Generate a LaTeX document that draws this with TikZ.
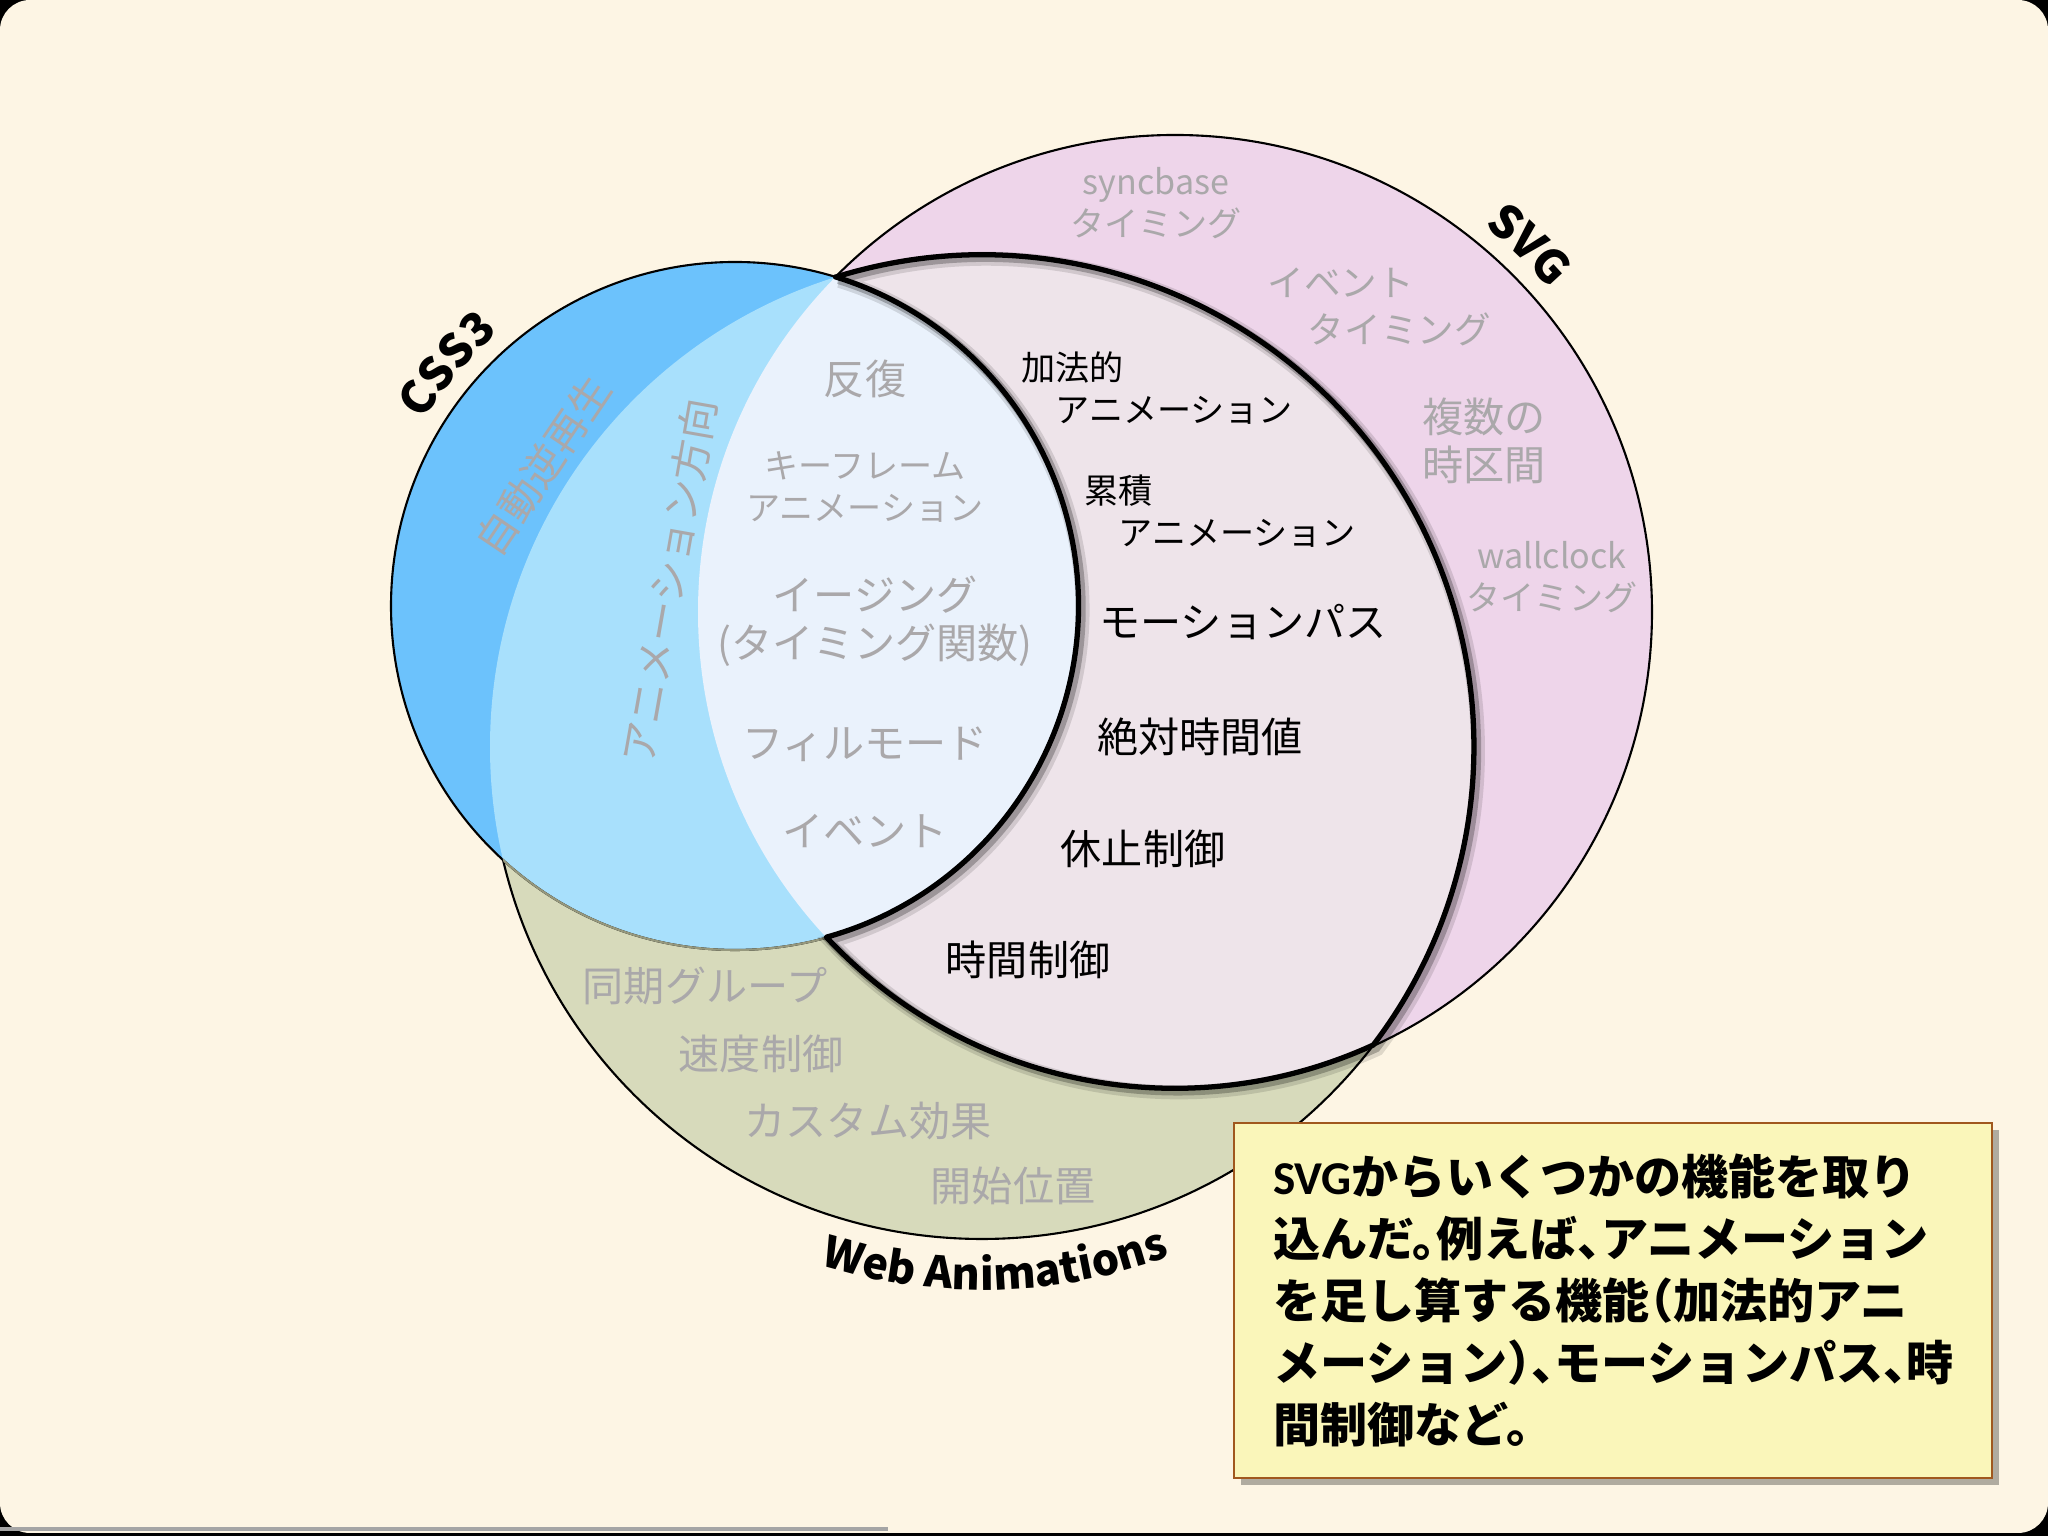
\documentclass[tikz,border=0pt]{standalone}
\usepackage{fontspec}
\setmainfont{Noto Sans CJK JP}
\newfontfamily\notefont{Noto Sans CJK JP}[RawFeature=+halt]
\newfontfamily\calfont{Carlito}
\usetikzlibrary{decorations.text}

\definecolor{bgcream}{RGB}{253,245,228}
\definecolor{waolive}{RGB}{215,218,187}
\definecolor{svgpink}{RGB}{238,213,234}
\definecolor{svgwa}{RGB}{238,228,234}
\definecolor{cssblue}{RGB}{108,194,252}
\definecolor{csswa}{RGB}{168,224,252}
\definecolor{allthree}{RGB}{234,242,252}
\definecolor{featgray}{RGB}{170,168,170}
\definecolor{olivegray}{RGB}{150,152,125}
\definecolor{notefill}{RGB}{250,246,186}
\definecolor{notebrown}{RGB}{160,88,30}
\definecolor{bargray}{RGB}{165,165,165}

\newcommand\rcss{3.44}
\newcommand\rsvg{4.77}
\newcommand\rwa{4.92}
\newcommand\arcfont{\fontsize{13}{15}\selectfont\bfseries}
\newcommand\rimpath{(8.36,12.59) arc[start angle=107.26, end angle=-37.31, radius=\rwa]
  arc[start angle=-65.40, end angle=-136.91, radius=\rsvg]
  arc[start angle=-74.50, end angle=72.93, radius=\rcss] -- cycle}

\tikzset{
  ring/.style={draw=black, line width=0.6pt},
  rim/.style={line width=1.5pt, line join=round},
  lab/.style={inner sep=0pt, align=center, font=\fontsize{11.7}{13.7}\selectfont},
  labsm/.style={lab, font=\fontsize{9.7}{11.8}\selectfont},
  faint/.style={text=featgray},
  arclabel/.style={decorate, decoration={text along path, text align=center, text color=black}},
  note/.style={draw=notebrown, line width=0.8pt, fill=notefill, minimum width=7.58cm,
    minimum height=3.55cm, text width=6.8cm, inner xsep=0.39cm, align=left,
    font=\notefont\fontsize{13.4}{17.6}\selectfont\bfseries}
}

\begin{document}
\begin{tikzpicture}
\useasboundingbox (0,0) rectangle (20.48,15.36);
\fill[black] (0,0) rectangle (20.48,15.36);
\fill[bgcream, rounded corners=0.3cm] (0,0.03) rectangle (20.48,15.36);
\fill[bargray] (0,0.05) rectangle (8.88,0.09);

\coordinate (css) at (7.35,9.30);
\coordinate (svg) at (11.75,9.24);
\coordinate (wa) at (9.82,7.89);

% the three sets
\filldraw[ring, fill=waolive] (wa) circle[radius=\rwa];
\filldraw[ring, fill=svgpink] (svg) circle[radius=\rsvg];
\begin{scope}
  \clip (svg) circle[radius=\rsvg];
  \fill[svgwa] (wa) circle[radius=\rwa];
\end{scope}
\fill[cssblue] (css) circle[radius=\rcss];
\begin{scope}
  \clip (css) circle[radius=\rcss];
  \fill[csswa] (wa) circle[radius=\rwa];
  \clip (svg) circle[radius=\rsvg];
  \fill[allthree] (wa) circle[radius=\rwa];
\end{scope}
\draw[ring] (css) circle[radius=\rcss];
\begin{scope}
  \clip (wa) circle[radius=\rwa];
  \draw[ring, draw=olivegray] (css) circle[radius=\rcss];
\end{scope}

% taken over from SVG
\draw[line width=4pt, black, opacity=0.12, shift={(0.04,-0.04)}] \rimpath;
\draw[line width=2.4pt, black, opacity=0.25, shift={(0.03,-0.03)}] \rimpath;
\draw[rim] \rimpath;

\path[arclabel, decoration={text={|\arcfont|CSS3}}] (css) ++(165:3.62) arc[start angle=165, end angle=115, radius=3.62];
\path[arclabel, decoration={text={|\arcfont|SVG}}] (svg) ++(70:4.95) arc[start angle=70, end angle=22, radius=4.95];
\path[arclabel, decoration={text={|\fontsize{12.3}{14}\selectfont\bfseries|Web Animations}}] (wa) ++(246:5.43) arc[start angle=246, end angle=297, radius=5.43];

\node[lab, faint, rotate=56] (alternate) at (5.43,10.70) {自動逆再生};
\node[lab, faint, rotate=80] (direction) at (6.69,9.55) {アニメーション方向};
\node[lab, faint] (iterate) at (8.65,11.57) {反復};
\node[labsm, faint] (keyframe) at (8.65,10.49) {キーフレーム\\アニメーション};
\node[lab, faint] (easing) at (8.75,9.15) {イージング\\(タイミング関数)};
\node[lab, faint] (fillmode) at (8.65,7.92) {フィルモード};
\node[lab, faint] (event) at (8.65,7.05) {イベント};

\node[labsm, anchor=west, align=left] (additive) at (10.21,11.48) {加法的\\\hspace*{1em}アニメーション};
\node[labsm, anchor=west, align=left] (accumulate) at (10.84,10.25) {累積\\\hspace*{1em}アニメーション};
\node[lab] (motion) at (12.43,9.14) {モーションパス};
\node[lab] (absolute) at (12.00,7.99) {絶対時間値};
\node[lab] (pause) at (11.43,6.87) {休止制御};
\node[lab] (timectl) at (10.28,5.76) {時間制御};

\node[labsm, faint] (syncbase) at (11.56,13.33) {syncbase\\タイミング};
\node[lab, faint, anchor=west, align=left, font=\fontsize{10.4}{13.4}\selectfont] (evtiming) at (12.67,12.29) {イベント\\\hspace*{1.1em}タイミング};
\node[lab, faint] (intervals) at (14.84,10.95) {複数の\\時区間};
\node[labsm, faint] (wallclock) at (15.52,9.59) {wallclock\\タイミング};

\node[lab, faint] (syncgroup) at (7.05,5.50) {同期グループ};
\node[lab, faint] (rate) at (7.61,4.82) {速度制御};
\node[lab, faint] (custom) at (8.68,4.15) {カスタム効果};
\node[lab, faint] (startpos) at (10.13,3.50) {開始位置};

\fill[black, opacity=0.3] (12.41,0.51) rectangle (19.99,4.06);
\node[note] (note) at (16.13,2.355) {{\calfont SVG}からいくつかの機能を取り\\
込んだ。例えば、アニメーション\\
を足し算する機能（加法的アニ\\
メーション）、モーションパス、時\\
間制御など。};
\end{tikzpicture}
\end{document}
